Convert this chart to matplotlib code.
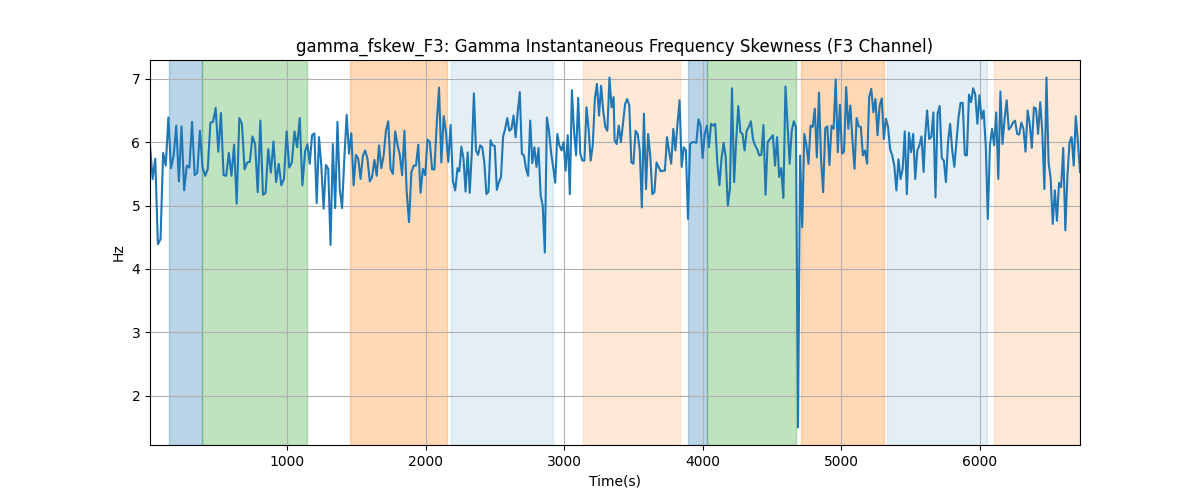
import matplotlib
matplotlib.use("Agg")
import matplotlib.pyplot as plt
import numpy as np

tramo1 = [5.95, 5.42, 5.74, 4.39, 4.47, 5.83, 5.63, 6.39, 5.59, 5.79, 6.26, 5.38, 6.25, 5.24, 5.63,
          5.6, 6.32, 5.48, 5.52, 6.18, 5.6, 5.47, 5.58, 6.31, 6.32, 6.54, 5.85, 6.46, 5.48, 5.47,
          5.83, 5.47, 5.96, 5.03, 6.38, 6.29, 5.57, 5.68, 5.69, 6.09, 5.97, 5.21, 6.34, 5.17, 5.2,
          5.89, 5.52, 6.01, 5.37, 5.66, 5.32, 5.42, 6.17, 5.6, 5.68, 6.17, 5.92, 6.38, 5.32]
tramo2 = [5.86, 5.97, 5.66, 6.11, 6.14, 5.04, 6.08, 5.63, 4.95, 5.64, 5.58, 4.38, 5.97, 4.96, 6.32,
          5.26, 4.96, 5.76, 6.43, 5.82, 6.14, 5.32, 5.8, 5.74, 5.42, 5.78, 5.87, 5.74, 5.38, 5.45,
          5.72, 5.47, 5.95, 5.59, 5.79, 6.18, 6.33, 5.58, 5.5, 6.17, 5.96, 5.8, 5.48, 6.18, 5.21,
          4.74, 5.52, 5.63, 5.63, 5.96, 5.2, 5.58, 5.48, 6.04, 6.0, 5.57, 5.57, 6.29, 6.86, 5.68,
          6.41, 6.16, 5.69, 6.27, 5.39, 5.24, 5.59]
tramo3 = [5.54, 5.93, 5.74, 5.22, 5.84, 5.2, 5.84, 6.77, 5.87, 5.8, 5.95, 5.92, 5.68, 5.18, 5.22,
          6.03, 5.95, 5.94, 5.25, 5.37, 5.45, 6.09, 6.21, 6.38, 6.18, 6.21, 6.42, 6.08, 6.47, 6.79,
          5.82, 5.79, 5.58, 5.47, 6.34, 5.67, 5.92, 5.61, 5.91, 5.16, 5.0, 4.26, 6.39, 6.18, 5.84,
          5.61, 5.36, 6.13, 5.95, 5.87, 6.0, 5.55, 6.11, 5.18, 6.82, 6.18, 5.79, 6.7, 5.82, 5.71,
          5.71, 6.55, 6.21, 5.71, 5.95, 6.68, 6.92, 6.42, 6.89, 6.5, 6.24, 6.18, 7.02, 6.55, 6.71]
tramo4 = [6.03, 5.97, 6.26, 6.0, 6.29, 6.6, 6.68, 6.58, 5.68, 5.66, 6.18, 6.13, 5.87, 4.97, 6.45,
          5.26, 6.13, 5.79, 5.18, 5.21, 5.68, 5.61, 5.54, 5.55, 5.55, 6.08, 5.85, 5.66, 6.21, 5.87,
          6.29, 6.66, 5.61, 5.92, 5.87, 4.79, 5.97, 6.0, 6.0, 5.99, 6.36, 6.26, 5.75, 6.13, 6.26,
          5.92, 6.29, 6.26, 6.29, 5.68, 5.32, 5.74, 5.99, 5.76, 5.0, 5.26, 6.85, 5.37, 6.03, 6.57,
          6.16, 6.13, 5.87, 6.18, 6.24, 6.33, 6.05, 5.95, 5.89, 5.79, 5.8, 6.27, 5.17, 6.0]
tramo5 = [6.11, 5.63, 6.08, 5.45, 5.59, 5.12, 6.88, 6.26, 5.66, 6.18, 6.33, 6.24, 1.5, 5.79, 4.66,
          6.13, 5.95, 5.66, 6.26, 6.24, 6.53, 5.76, 6.78, 5.74, 5.21, 6.22, 6.25, 5.64, 6.26, 6.21,
          6.99, 5.84, 6.59, 5.82, 5.85, 6.87, 6.21, 6.58, 6.03, 5.58, 6.38, 6.25, 6.24, 5.79, 5.87,
          5.66, 6.71, 6.84, 6.47, 6.68, 6.11, 6.58, 6.69, 6.05, 6.37, 6.24, 5.89, 5.79, 5.63, 5.24,
          5.73, 5.42, 5.58, 6.17, 5.18, 6.15, 5.84, 6.13, 5.42, 5.87, 5.95, 6.09, 5.53]
tramo6 = [6.05, 6.5, 6.05, 6.08, 6.47, 5.13, 6.45, 6.57, 5.75, 5.71, 5.37, 6.0, 6.29, 5.87, 5.61,
          5.99, 6.39, 6.62, 6.62, 5.8, 5.79, 6.75, 6.63, 6.85, 6.75, 6.29, 6.74, 6.37, 6.5, 5.95,
          4.79, 5.95, 6.21, 5.95, 6.47, 5.42, 6.8, 5.97, 6.37, 6.66, 6.2, 6.24, 6.31, 6.34, 6.13,
          6.12, 6.31, 6.21, 5.85, 6.5, 6.29, 5.91, 6.55, 6.53, 6.13, 6.63, 6.16, 5.26, 7.02, 5.68,
          5.42, 4.71, 5.24, 4.76, 5.36, 5.29, 5.91, 4.61, 5.47, 6.0, 6.08, 5.63, 6.41, 6.0, 5.53]

# tiempo (s) del primer y ultimo valor de cada tramo
tramos = [tramo1, tramo2, tramo3, tramo4, tramo5, tramo6]
tramos_inicio = [8, 1128, 2241, 3362, 4505, 5603]
tramos_fin = [1108, 2228, 3355, 4467, 5593, 6722]

# zonas marcadas: inicio, fin, color, alpha
zonas_inicio = [147, 386, 1449, 2178, 3131, 3890, 4027, 4706, 5328, 6101]
zonas_fin = [386, 1138, 2150, 2915, 3832, 4027, 4670, 5306, 6051, 6722]
zonas_color = ['tab:blue', 'tab:green', 'tab:orange', 'tab:blue', 'tab:orange',
               'tab:blue', 'tab:green', 'tab:orange', 'tab:blue', 'tab:orange']
zonas_alpha = [0.3, 0.3, 0.3, 0.12, 0.17, 0.3, 0.3, 0.3, 0.12, 0.17]

tiempo = []
valores = []
for i in range(len(tramos)):
    tiempo.extend(np.linspace(tramos_inicio[i], tramos_fin[i], len(tramos[i])))
    valores.extend(tramos[i])

fig, ax = plt.subplots(figsize=(12, 5), dpi=100)
for i in range(len(zonas_inicio)):
    ax.axvspan(zonas_inicio[i], zonas_fin[i], color=zonas_color[i], alpha=zonas_alpha[i])
ax.plot(tiempo, valores, color='tab:blue')
ax.set_xlim(tiempo[0], tiempo[-1])
ax.grid(True)
ax.set_title('gamma_fskew_F3: Gamma Instantaneous Frequency Skewness (F3 Channel)')
ax.set_xlabel('Time(s)')
ax.set_ylabel('Hz')
fig.savefig('out.png')
